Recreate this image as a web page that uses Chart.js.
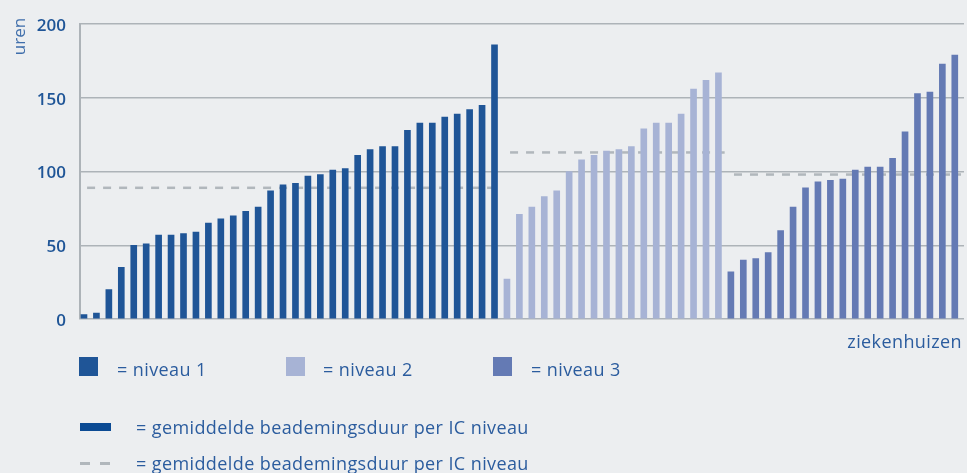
<!DOCTYPE html>
<html>
<head>
<meta charset="utf-8">
<script src="https://cdn.jsdelivr.net/npm/chart.js@4.4.0/dist/chart.umd.min.js"></script>
<style>
  html, body { margin: 0; padding: 0; background: #eceef0; }
  #wrap { position: relative; width: 967px; height: 473px; overflow: hidden; font-family: 'Open Sans', sans-serif; color: #2b5c9e; }
  #wrap canvas { position: absolute; left: 0; top: 0; }
  .sw { position: absolute; width: 19px; height: 19px; }
  .lbl { position: absolute; font-size: 18px; line-height: 20px; white-space: nowrap; letter-spacing: 0.4px; }
  .bar-avg { position: absolute; left: 80px; top: 423px; width: 31px; height: 8px; background: #0b4a93; }
  .dash { position: absolute; top: 462px; width: 10px; height: 3px; background: #b1b7bc; }
</style>
</head>
<body>
<div id="wrap">
  <canvas id="beademingChart" width="967" height="473"></canvas>

  <div class="sw" style="left:79px;top:357px;background:#1f5597"></div>
  <div class="lbl" style="left:117px;top:359px">= niveau 1</div>
  <div class="sw" style="left:286px;top:357px;background:#a7b3d5"></div>
  <div class="lbl" style="left:323px;top:359px">= niveau 2</div>
  <div class="sw" style="left:493px;top:357px;background:#647ab4"></div>
  <div class="lbl" style="left:531px;top:359px">= niveau 3</div>

  <div class="bar-avg"></div>
  <div class="lbl" style="left:136px;top:417px">= gemiddelde beademingsduur per IC niveau</div>
  <div class="dash" style="left:80px"></div>
  <div class="dash" style="left:100px"></div>
  <div class="lbl" style="left:136px;top:453px">= gemiddelde beademingsduur per IC niveau</div>
</div>

<script>
// beademingsduur (uren) per ziekenhuis, gesorteerd binnen elk IC niveau
const NIVEAU_1 = [3, 4, 20, 35, 50, 51, 57, 57, 58, 59, 65, 68, 70, 73, 76, 87, 91, 92, 97, 98,
                  101, 102, 111, 115, 117, 117, 128, 133, 133, 137, 139, 142, 145, 186];
const NIVEAU_2 = [27, 71, 76, 83, 87, 100, 108, 111, 114, 115, 117, 129, 133, 133, 139, 156, 162, 167];
const NIVEAU_3 = [32, 40, 41, 45, 60, 76, 89, 93, 94, 95, 101, 103, 103, 109, 127, 153, 154, 173, 179];
const GEMIDDELD = [89, 113, 98];
const Y_TICKS = [0, 50, 100, 150, 200];

const KLEUREN = ['#1f5597', '#a7b3d5', '#647ab4'];
const GRIJS = '#adb3b8';
const TEKST = '#1f5597';

const groepen = [NIVEAU_1, NIVEAU_2, NIVEAU_3];
const barSets = [];
const avgSets = [];
let start = 0;
groepen.forEach((vals, g) => {
  const first = start;
  const last = start + vals.length - 1;
  barSets.push({
    type: 'bar',
    label: 'niveau ' + (g + 1),
    data: vals.map((v, i) => ({ x: first + i, y: v })),
    backgroundColor: KLEUREN[g],
    barThickness: 6,
    grouped: false,
    order: 0
  });
  // stippellijn voor het gemiddelde, loopt achter de staven langs
  avgSets.push({
    type: 'line',
    label: 'gemiddelde niveau ' + (g + 1),
    data: [{ x: first + 0.25, y: GEMIDDELD[g] }, { x: last + 0.5, y: GEMIDDELD[g] }],
    borderColor: '#b1b7bc',
    borderWidth: 2.5,
    borderDash: [8, 8],
    pointRadius: 0,
    fill: false,
    order: 1
  });
  start = last + 1;
});
const totaal = start;

const captions = {
  id: 'captions',
  afterDraw(chart) {
    const { ctx, chartArea } = chart;
    ctx.save();
    ctx.fillStyle = '#3f6eab';
    ctx.font = '17px "Open Sans"';
    ctx.textBaseline = 'alphabetic';
    // as-titel links, van onder naar boven
    ctx.save();
    ctx.translate(chartArea.left - 55, chartArea.top + 31);
    ctx.rotate(-Math.PI / 2);
    ctx.textAlign = 'left';
    ctx.fillText('uren', 0, 0);
    ctx.restore();
    ctx.fillStyle = '#2b5c9e';
    ctx.font = '18px "Open Sans"';
    ctx.letterSpacing = '0.4px';
    ctx.textAlign = 'right';
    ctx.fillText('ziekenhuizen', chartArea.right - 2, chartArea.bottom + 29);
    ctx.restore();
  }
};

new Chart(document.getElementById('beademingChart'), {
  type: 'bar',
  data: { datasets: [...barSets, ...avgSets] },
  options: {
    responsive: false,
    animation: false,
    devicePixelRatio: 1,
    layout: { padding: { top: 19, right: 3, bottom: 154, left: 0 } },
    plugins: { legend: { display: false }, tooltip: { enabled: false } },
    scales: {
      x: {
        type: 'linear',
        display: false,
        offset: false,
        min: -0.32,
        max: totaal - 1 + 0.74
      },
      y: {
        min: 0,
        max: 200,
        afterBuildTicks: s => { s.ticks = Y_TICKS.map(v => ({ value: v })); },
        afterFit: s => { s.width = 80; },
        grid: { color: GRIJS, lineWidth: 1.5, drawTicks: false },
        border: { color: GRIJS, width: 2 },
        ticks: {
          color: TEKST,
          padding: 14,
          labelOffset: 2,
          font: { family: 'Open Sans', size: 17, weight: '600' }
        }
      }
    }
  },
  plugins: [captions]
});
</script>
</body>
</html>
